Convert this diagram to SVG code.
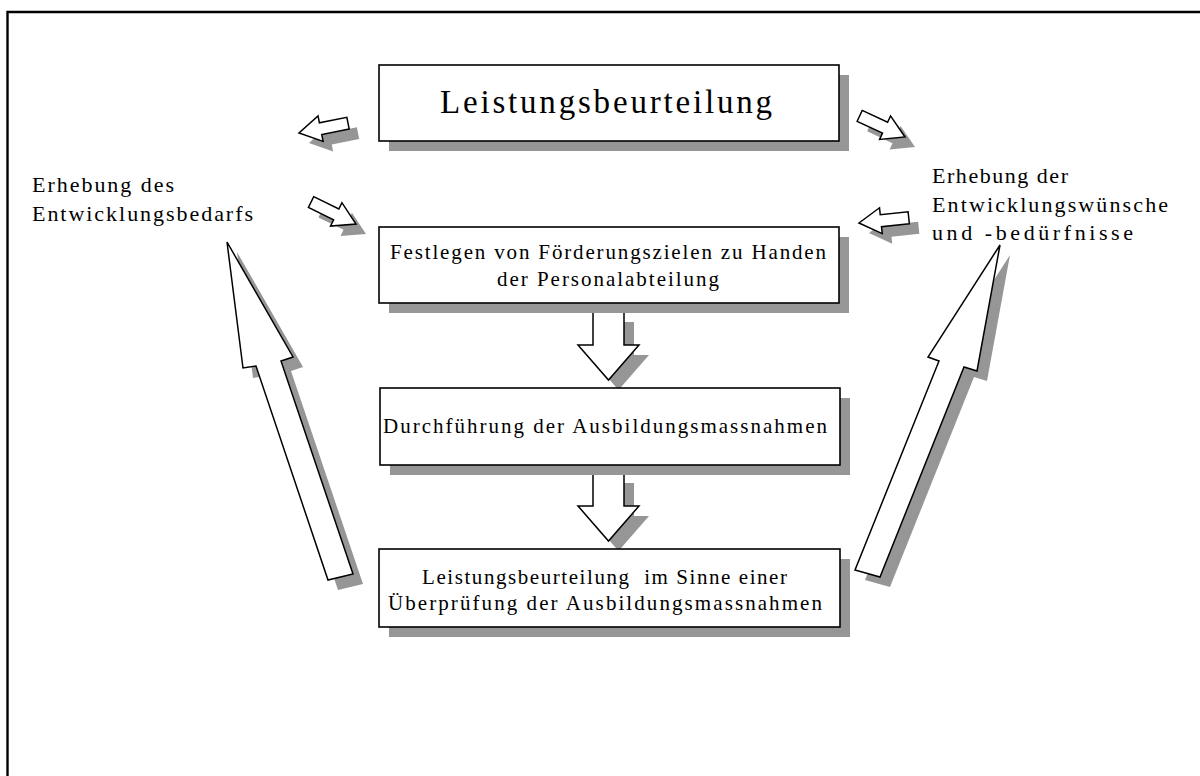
<svg xmlns="http://www.w3.org/2000/svg" width="1200" height="776" viewBox="0 0 1200 776">
<style>
.box{fill:#fff;stroke:#000;stroke-width:1.6}
.sh{fill:#969696;stroke:none}
.arr{fill:#fff;stroke:#000;stroke-width:1.5;stroke-linejoin:miter}
text{font-family:"Liberation Serif","Times New Roman",serif;fill:#000;font-size:21px}
.lbl{font-size:22px}
.big{font-size:33px}
</style>
<defs>
<polygon id="sa" points="-50,-6 -22,-6 -22,-13 0,0 -22,13 -22,6 -50,6"/>
<polygon id="da" points="-15.5,0 15.5,0 15.5,33 30.5,33 0,68 -30.5,33 -15.5,33"/>
</defs>
<rect width="1200" height="776" fill="#fff"/>
<path d="M7.5,776 V12 H1200" fill="none" stroke="#000" stroke-width="2.4"/>

<g id="connectors">
  <g transform="translate(309,143) rotate(168.7)"><use href="#sa" class="sh"/></g>
  <g transform="translate(299,133) rotate(168.7)"><use href="#sa" class="arr"/></g>
  <g transform="translate(915,147) rotate(25)"><use href="#sa" class="sh"/></g>
  <g transform="translate(905,137) rotate(25)"><use href="#sa" class="arr"/></g>
  <g transform="translate(366,234) rotate(26)"><use href="#sa" class="sh"/></g>
  <g transform="translate(356,224) rotate(26)"><use href="#sa" class="arr"/></g>
  <g transform="translate(869,233) rotate(174)"><use href="#sa" class="sh"/></g>
  <g transform="translate(859,223) rotate(174)"><use href="#sa" class="arr"/></g>
  <g transform="translate(618.5,322)"><use href="#da" class="sh"/></g>
  <g transform="translate(608.5,312)"><use href="#da" class="arr"/></g>
  <g transform="translate(618.5,483)"><use href="#da" class="sh"/></g>
  <g transform="translate(608.5,473)"><use href="#da" class="arr"/></g>
  <polygon class="sh" transform="translate(10,10)" points="227,242 293,357 281,361 353,574 328,580 256,366 243,368"/>
  <polygon class="arr" points="227,242 293,357 281,361 353,574 328,580 256,366 243,368"/>
  <polygon class="sh" transform="translate(10,10)" points="1000,245 977,371 964,367 880,577 855,570 939,361 928,357"/>
  <polygon class="arr" points="1000,245 977,371 964,367 880,577 855,570 939,361 928,357"/>
</g>

<g id="node-leistungsbeurteilung">
  <rect class="sh" x="389" y="75" width="460" height="76"/>
  <rect class="box" x="379" y="65" width="460" height="76"/>
  <text class="big" x="440" y="113" textLength="332" lengthAdjust="spacing">Leistungsbeurteilung</text>
</g>

<g id="node-festlegen">
  <rect class="sh" x="389" y="237" width="460" height="76"/>
  <rect class="box" x="379" y="227" width="460" height="76"/>
  <text x="390" y="259" textLength="436" lengthAdjust="spacing">Festlegen von Förderungszielen zu Handen</text>
  <text x="497" y="286" textLength="222" lengthAdjust="spacing">der Personalabteilung</text>
</g>

<g id="node-durchfuehrung">
  <rect class="sh" x="390" y="398" width="460" height="77"/>
  <rect class="box" x="380" y="388" width="460" height="77"/>
  <text x="383" y="433" textLength="444" lengthAdjust="spacing">Durchführung der Ausbildungsmassnahmen</text>
</g>

<g id="node-ueberpruefung">
  <rect class="sh" x="389" y="559" width="461" height="78"/>
  <rect class="box" x="379" y="549" width="461" height="78"/>
  <text x="422" y="584" textLength="365" lengthAdjust="spacing" xml:space="preserve">Leistungsbeurteilung  im Sinne einer</text>
  <text x="388" y="610" textLength="434" lengthAdjust="spacing">Überprüfung der Ausbildungsmassnahmen</text>
</g>

<g id="label-entwicklungsbedarf">
  <text class="lbl" x="32" y="192" textLength="142" lengthAdjust="spacing">Erhebung des</text>
  <text class="lbl" x="32" y="221" textLength="221" lengthAdjust="spacing">Entwicklungsbedarfs</text>
</g>

<g id="label-entwicklungswuensche">
  <text class="lbl" x="932" y="183" textLength="136" lengthAdjust="spacing">Erhebung der</text>
  <text class="lbl" x="932" y="212" textLength="236" lengthAdjust="spacing">Entwicklungswünsche</text>
  <text class="lbl" x="932" y="240" textLength="201" lengthAdjust="spacing">und -bedürfnisse</text>
</g>
</svg>
